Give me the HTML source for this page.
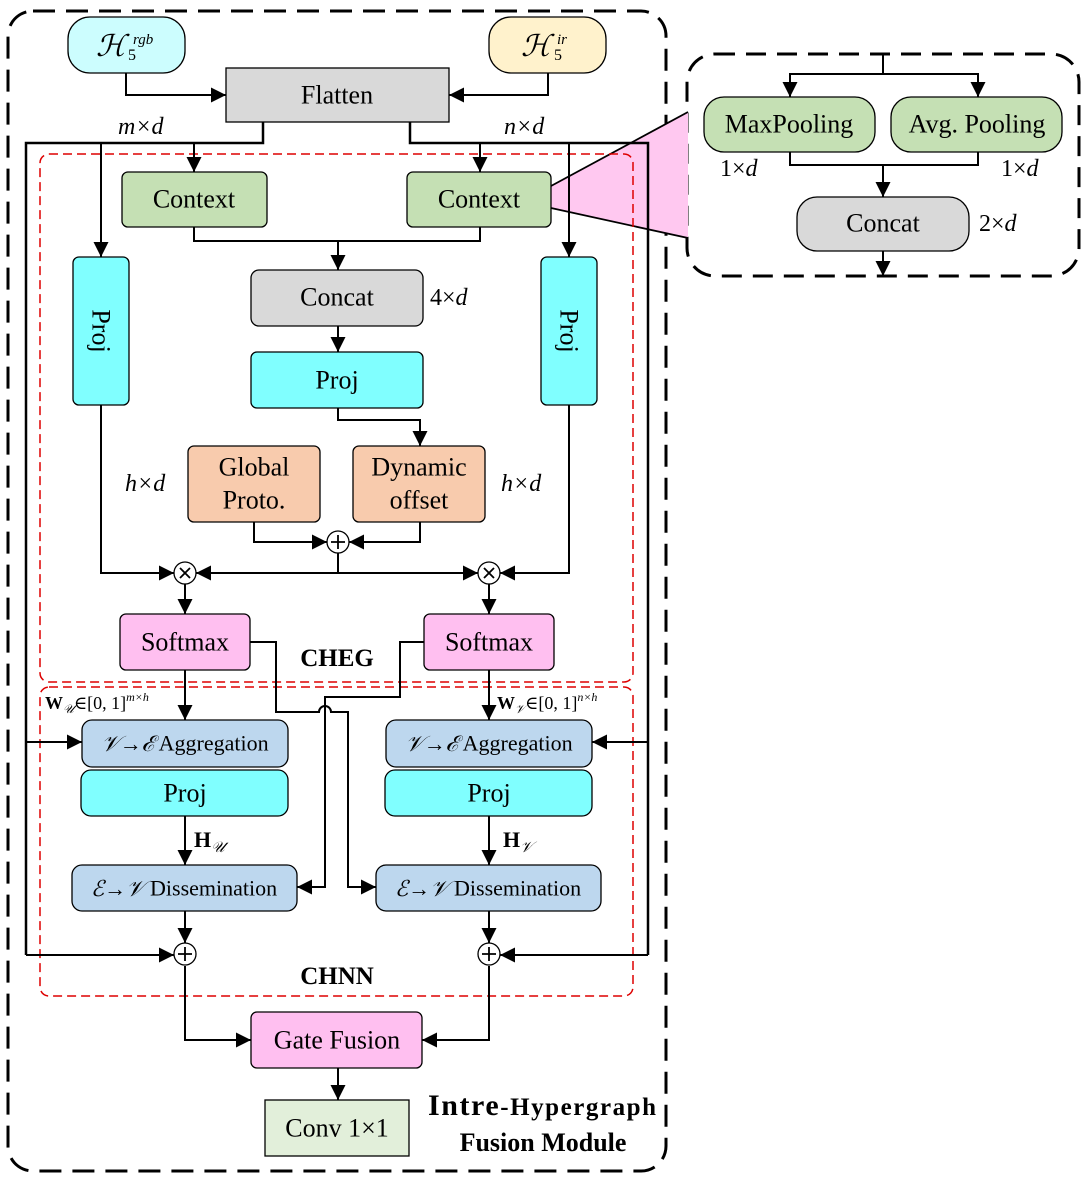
<!DOCTYPE html>
<html><head><meta charset="utf-8"><style>
html,body{margin:0;padding:0;background:#fff}
svg{display:block}
text{font-family:"Liberation Serif","DejaVu Serif",serif;fill:#000}
.t{font-size:26px;text-anchor:middle;dominant-baseline:central}
.m{font-size:24px;font-style:italic}
</style></head><body>
<svg width="1087" height="1179" viewBox="0 0 1087 1179" xmlns="http://www.w3.org/2000/svg">
<defs>
<marker id="b" viewBox="0 0 10 10" refX="10" refY="5" markerWidth="15" markerHeight="15" markerUnits="userSpaceOnUse" orient="auto"><path d="M0,0 L10,5 L0,10 z" fill="#000"/></marker>
</defs>
<rect x="8" y="11" width="658" height="1160" rx="25" fill="none" stroke="#000" stroke-width="3" stroke-dasharray="22,11"/>
<rect x="687" y="54" width="392" height="222" rx="28" fill="none" stroke="#000" stroke-width="3" stroke-dasharray="20,11"/>
<polygon points="551,186 688,112 688,238 551,208" fill="#ffc8f0"/>
<line x1="551" y1="186" x2="688" y2="112" stroke="#000" stroke-width="1.8"/>
<line x1="551" y1="208" x2="688" y2="238" stroke="#000" stroke-width="1.8"/>
<rect x="40" y="154" width="593" height="528" rx="9" fill="none" stroke="#d00" stroke-width="1.5" stroke-dasharray="9,5"/>
<rect x="40" y="687" width="593" height="309" rx="9" fill="none" stroke="#d00" stroke-width="1.5" stroke-dasharray="9,5"/>

<g fill="none" stroke="#000" stroke-width="2">
<path d="M126,73 V95 H226" marker-end="url(#b)"/>
<path d="M548,73 V95 H449" marker-end="url(#b)"/>
<path d="M263,122 V143 H26 V955" stroke-width="2.5"/>
<path d="M410,122 V143 H648 V955" stroke-width="2.5"/>
<path d="M101,143 V257" marker-end="url(#b)"/>
<path d="M194,143 V172" marker-end="url(#b)"/>
<path d="M480,143 V172" marker-end="url(#b)"/>
<path d="M569,143 V257" marker-end="url(#b)"/>
<path d="M194,227 V241 H480 V227"/>
<path d="M338,241 V270" marker-end="url(#b)"/>
<path d="M338,326 V352" marker-end="url(#b)"/>
<path d="M338,408 V420 H420 V446" marker-end="url(#b)"/>
<path d="M254,522 V542 H327" marker-end="url(#b)"/>
<path d="M420,522 V542 H349" marker-end="url(#b)"/>
<path d="M338,553 V573"/>
<path d="M338,573 H196" marker-end="url(#b)"/>
<path d="M338,573 H478" marker-end="url(#b)"/>
<path d="M101,405 V573 H174" marker-end="url(#b)"/>
<path d="M569,405 V573 H500" marker-end="url(#b)"/>
<path d="M185,584 V614" marker-end="url(#b)"/>
<path d="M489,584 V614" marker-end="url(#b)"/>
<path d="M250,642 H276 V712 H319 A6,6 0 0 1 331,712 H348 V887 H376" marker-end="url(#b)"/>
<path d="M424,642 H400 V697 H325 V887 H297" marker-end="url(#b)"/>
<path d="M185,670 V720" marker-end="url(#b)"/>
<path d="M489,670 V720" marker-end="url(#b)"/>
<path d="M26,742 H82" marker-end="url(#b)"/>
<path d="M648,742 H592" marker-end="url(#b)"/>
<path d="M185,816 V865" marker-end="url(#b)"/>
<path d="M489,816 V865" marker-end="url(#b)"/>
<path d="M185,911 V943" marker-end="url(#b)"/>
<path d="M489,911 V943" marker-end="url(#b)"/>
<path d="M26,955 H174" marker-end="url(#b)"/>
<path d="M648,955 H500" marker-end="url(#b)"/>
<path d="M185,966 V1040 H251" marker-end="url(#b)"/>
<path d="M489,966 V1040 H422" marker-end="url(#b)"/>
<path d="M338,1068 V1100" marker-end="url(#b)"/>
<path d="M883,54 V74"/>
<path d="M883,74 H790 V97" marker-end="url(#b)"/>
<path d="M883,74 H978 V97" marker-end="url(#b)"/>
<path d="M790,152 V165 H978 V152"/>
<path d="M883,165 V197" marker-end="url(#b)"/>
<path d="M883,251 V276" marker-end="url(#b)"/>
</g>

<g stroke="#000" stroke-width="1.3">
<rect x="68" y="17" width="117" height="56" rx="22" fill="#ccfdfe"/>
<rect x="489" y="17" width="117" height="56" rx="22" fill="#fff2cc"/>
<rect x="226" y="68" width="223" height="54" fill="#d9d9d9"/>
<rect x="122" y="172" width="145" height="55" rx="6" fill="#c5e0b4"/>
<rect x="407" y="172" width="144" height="55" rx="6" fill="#c5e0b4"/>
<rect x="251" y="270" width="172" height="56" rx="8" fill="#d9d9d9"/>
<rect x="251" y="352" width="172" height="56" rx="6" fill="#80ffff"/>
<rect x="73" y="257" width="56" height="148" rx="6" fill="#80ffff"/>
<rect x="541" y="257" width="56" height="148" rx="6" fill="#80ffff"/>
<rect x="188" y="446" width="132" height="76" rx="6" fill="#f8cbad"/>
<rect x="353" y="446" width="132" height="76" rx="6" fill="#f8cbad"/>
<circle cx="338" cy="542" r="11" fill="#fff"/>
<circle cx="185" cy="573" r="11" fill="#fff"/>
<circle cx="489" cy="573" r="11" fill="#fff"/>
<rect x="120" y="614" width="130" height="56" rx="6" fill="#ffbff0"/>
<rect x="424" y="614" width="130" height="56" rx="6" fill="#ffbff0"/>
<rect x="82" y="720" width="206" height="47" rx="10" fill="#bdd7ee"/>
<rect x="81" y="770" width="207" height="46" rx="10" fill="#80ffff"/>
<rect x="72" y="865" width="225" height="46" rx="10" fill="#bdd7ee"/>
<rect x="386" y="720" width="206" height="47" rx="10" fill="#bdd7ee"/>
<rect x="385" y="770" width="207" height="46" rx="10" fill="#80ffff"/>
<rect x="376" y="865" width="225" height="46" rx="10" fill="#bdd7ee"/>
<circle cx="185" cy="954" r="11" fill="#fff"/>
<circle cx="489" cy="954" r="11" fill="#fff"/>
<rect x="251" y="1012" width="171" height="56" rx="6" fill="#ffbff0"/>
<rect x="265" y="1100" width="144" height="56" fill="#e2efda"/>
<rect x="704" y="97" width="171" height="55" rx="20" fill="#c5e0b4"/>
<rect x="891" y="97" width="171" height="55" rx="20" fill="#c5e0b4"/>
<rect x="797" y="197" width="172" height="54" rx="20" fill="#d9d9d9"/>
</g>
<g stroke="#000" stroke-width="1.8">
<path d="M331,542 H345 M338,535 V549"/>
<path d="M178,954 H192 M185,947 V961"/>
<path d="M482,954 H496 M489,947 V961"/>
<path d="M180,568 L190,578 M190,568 L180,578"/>
<path d="M484,568 L494,578 M494,568 L484,578"/>
</g>

<text x="96" y="56" style="font-size:30px;font-style:italic">ℋ</text>
<text x="133" y="44" style="font-size:15px;font-style:italic">rgb</text>
<text x="128" y="60" style="font-size:16px">5</text>
<text x="521" y="56" style="font-size:30px;font-style:italic">ℋ</text>
<text x="557" y="44" style="font-size:15px;font-style:italic">ir</text>
<text x="554" y="60" style="font-size:16px">5</text>
<text class="t" x="337" y="95">Flatten</text>
<text x="118" y="134" class="m">m×d</text>
<text x="504" y="134" class="m">n×d</text>
<text class="t" x="194" y="199">Context</text>
<text class="t" x="479" y="199">Context</text>
<text class="t" x="337" y="297">Concat</text>
<text x="430" y="305" style="font-size:24px">4×<tspan font-style="italic">d</tspan></text>
<text class="t" x="337" y="380">Proj</text>
<text class="t" transform="translate(101,331) rotate(90)">Proj</text>
<text class="t" transform="translate(569,331) rotate(90)">Proj</text>
<text class="t" x="254" y="467">Global</text>
<text class="t" x="254" y="500">Proto.</text>
<text class="t" x="419" y="467">Dynamic</text>
<text class="t" x="419" y="500">offset</text>
<text x="125" y="491" class="m">h×d</text>
<text x="501" y="491" class="m">h×d</text>
<text class="t" x="185" y="642">Softmax</text>
<text class="t" x="489" y="642">Softmax</text>
<text x="337" y="666" style="font-size:25px;font-weight:bold;text-anchor:middle">CHEG</text>
<text x="45" y="709" style="font-size:18px"><tspan font-weight="bold">W</tspan><tspan font-size="12" font-style="italic" dy="4">𝒰</tspan><tspan dy="-4">∈[0, 1]</tspan><tspan font-size="12" font-style="italic" dy="-8">m×h</tspan></text>
<text x="497" y="709" style="font-size:18px"><tspan font-weight="bold">W</tspan><tspan font-size="12" font-style="italic" dy="4">𝒱</tspan><tspan dy="-4">∈[0, 1]</tspan><tspan font-size="12" font-style="italic" dy="-8">n×h</tspan></text>
<text class="t" x="185" y="743" style="font-size:22px"><tspan font-style="italic">𝒱→ℰ</tspan> Aggregation</text>
<text class="t" x="489" y="743" style="font-size:22px"><tspan font-style="italic">𝒱→ℰ</tspan> Aggregation</text>
<text class="t" x="185" y="793">Proj</text>
<text class="t" x="489" y="793">Proj</text>
<text x="194" y="847" style="font-size:22px;font-weight:bold">H<tspan font-size="15" font-weight="normal" font-style="italic" dy="5">𝒰</tspan></text>
<text x="503" y="847" style="font-size:22px;font-weight:bold">H<tspan font-size="15" font-weight="normal" font-style="italic" dy="5">𝒱</tspan></text>
<text class="t" x="184" y="888" style="font-size:22px"><tspan font-style="italic">ℰ→𝒱</tspan> Dissemination</text>
<text class="t" x="488" y="888" style="font-size:22px"><tspan font-style="italic">ℰ→𝒱</tspan> Dissemination</text>
<text x="337" y="984" style="font-size:25px;font-weight:bold;text-anchor:middle">CHNN</text>
<text class="t" x="337" y="1040">Gate Fusion</text>
<text class="t" x="337" y="1128">Conv 1×1</text>
<text x="428" y="1115" style="font-weight:bold;font-size:25px" textLength="228"><tspan font-size="30">Intre</tspan>-Hypergraph</text>
<text x="543" y="1151" style="font-weight:bold;font-size:26px;text-anchor:middle">Fusion Module</text>
<text class="t" x="789" y="124">MaxPooling</text>
<text class="t" x="977" y="124">Avg. Pooling</text>
<text x="720" y="176" style="font-size:24px">1×<tspan font-style="italic">d</tspan></text>
<text x="1001" y="176" style="font-size:24px">1×<tspan font-style="italic">d</tspan></text>
<text class="t" x="883" y="223">Concat</text>
<text x="979" y="231" style="font-size:24px">2×<tspan font-style="italic">d</tspan></text>
</svg>
</body></html>
